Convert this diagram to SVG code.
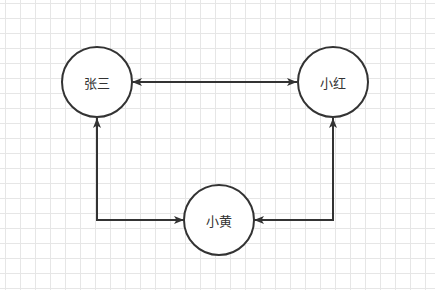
<svg xmlns="http://www.w3.org/2000/svg" width="435" height="290" viewBox="0 0 435 290">
<defs>
<pattern id="grid" x="5" y="3" width="15" height="15" patternUnits="userSpaceOnUse">
<path d="M0.5 0V15M0 0.5H15" fill="none" stroke="#e6e6e6" stroke-width="1"/>
</pattern>
<marker id="arr" viewBox="0 0 10 8" refX="10" refY="4" markerWidth="10" markerHeight="8" markerUnits="userSpaceOnUse" orient="auto-start-reverse">
<path d="M0 0L10 4L0 8L2.5 4Z" fill="#333"/>
</marker>
</defs>
<style>
.node circle{fill:#fff;stroke:#333;stroke-width:2}
.node text{font-family:"Noto Sans CJK SC","Noto Sans",sans-serif;font-size:13px;fill:#333;text-anchor:middle;dominant-baseline:central}
.edge{fill:none;stroke:#333;stroke-width:2;marker-end:url(#arr);marker-start:url(#arr)}
</style>
<rect width="435" height="290" fill="#fff"/>
<rect width="435" height="290" fill="url(#grid)"/>
<g id="connectors">
<path class="edge" d="M132 82H297"/>
<path class="edge" d="M97 118V220H184"/>
<path class="edge" d="M333 118V220H254"/>
</g>
<g id="zhangsan" class="node"><circle cx="97" cy="82" r="35"/><text x="97" y="82">张三</text></g>
<g id="xiaohong" class="node"><circle cx="333" cy="82" r="35"/><text x="333" y="82">小红</text></g>
<g id="xiaohuang" class="node"><circle cx="219" cy="220" r="35"/><text x="219" y="220">小黄</text></g>
</svg>
